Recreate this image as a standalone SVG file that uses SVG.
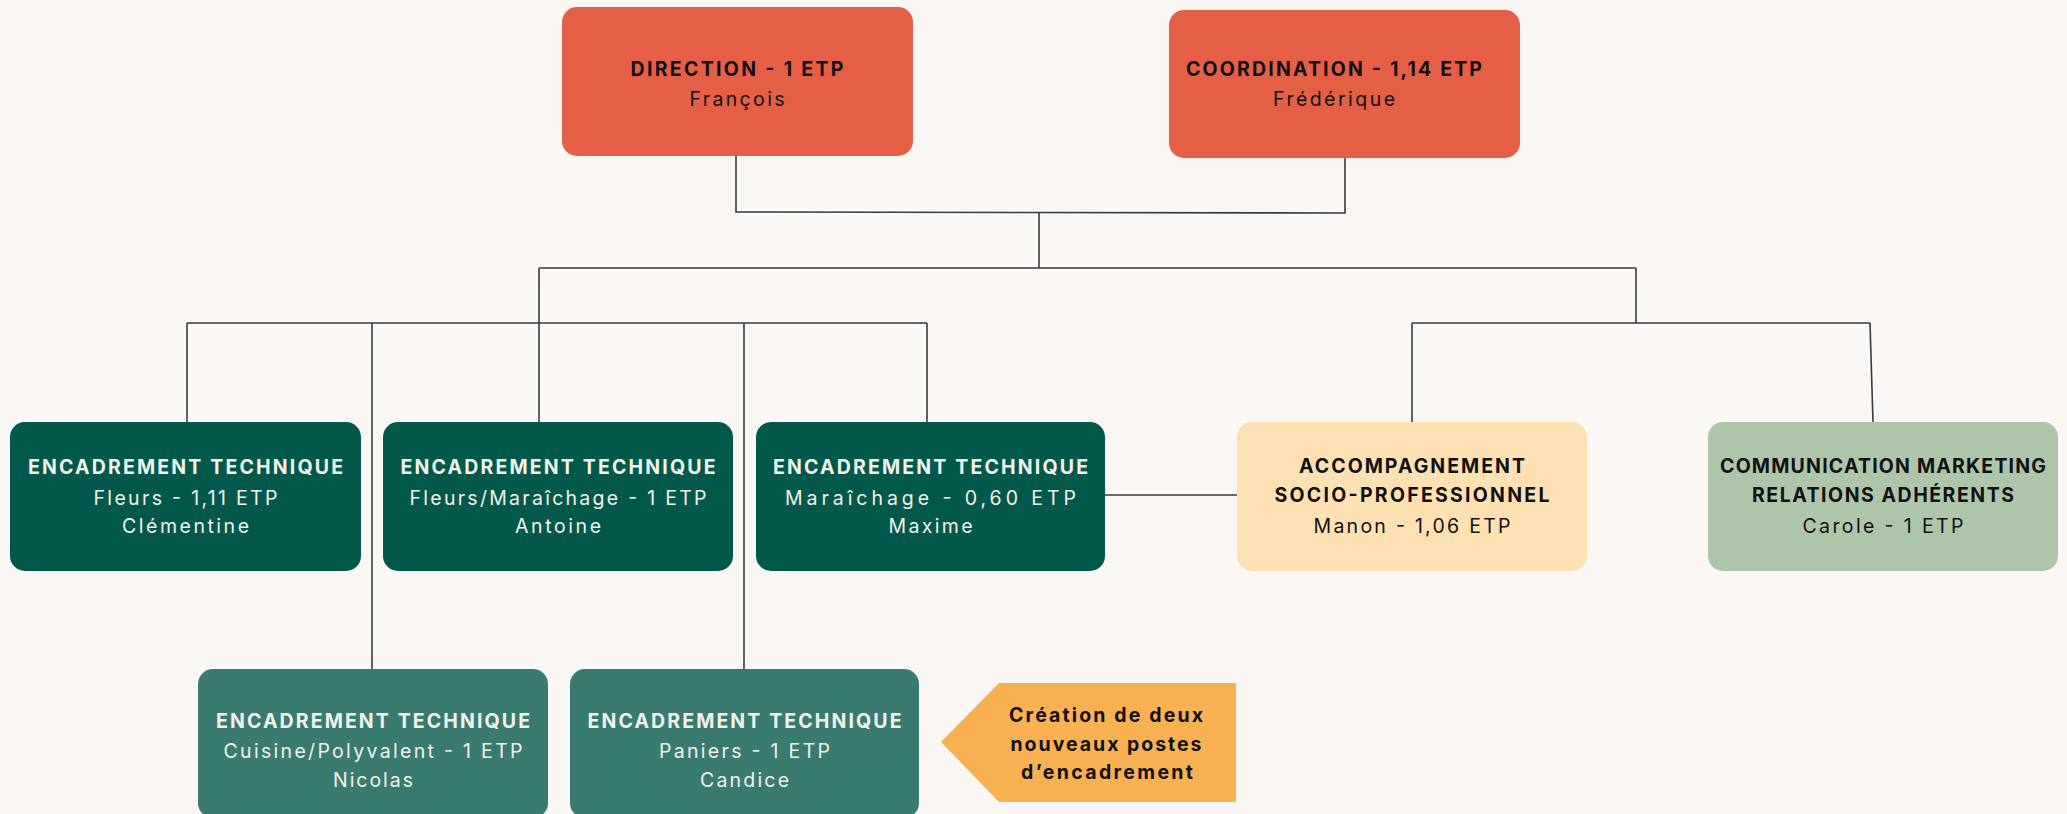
<svg xmlns="http://www.w3.org/2000/svg" width="2067" height="814" viewBox="0 0 2067 814">
<style>
.bg{fill:#FBF7F4}
.red{fill:#E55F46}
.dg{fill:#02594B}
.tl{fill:#397B71}
.pe{fill:#FEE1B2}
.sg{fill:#ADC6A9}
.or{fill:#F7B152}
.ln{fill:none;stroke:#3a3a3a;stroke-width:1.6}
text{font-family:Inter,"Open Sans","Liberation Sans",sans-serif;font-size:19.5px;text-anchor:middle}
.b{font-weight:700}
.r{font-weight:400}
.k{fill:#111111}
.w{fill:#F3F1EC}
</style>
<rect class="bg" x="0" y="0" width="2067" height="814"/>
<g id="connectors">
<path class="ln" d="M736,156 V212 L1345,213 V158"/>
<path class="ln" d="M1039,212 V268"/>
<path class="ln" d="M539,268 H1636"/>
<path class="ln" d="M539,268 V422"/>
<path class="ln" d="M1636,268 V323"/>
<path class="ln" d="M187,323 H927"/>
<path class="ln" d="M187,323 V422"/>
<path class="ln" d="M372,323 V669"/>
<path class="ln" d="M744,323 V669"/>
<path class="ln" d="M927,323 V422"/>
<path class="ln" d="M1412,323 H1870"/>
<path class="ln" d="M1412,323 V422"/>
<path class="ln" d="M1870,323 L1873,422"/>
<path class="ln" d="M1105,495 H1237"/>
</g>
<g id="direction">
<rect class="red" x="562" y="7" width="351" height="149" rx="15"/>
<text class="b k" x="737" y="76" textLength="213" lengthAdjust="spacing">DIRECTION - 1 ETP</text>
<text class="r k" x="737" y="106" textLength="95" lengthAdjust="spacing">François</text>
</g>
<g id="coordination">
<rect class="red" x="1169" y="10" width="351" height="148" rx="15"/>
<text class="b k" x="1334" y="76" textLength="296" lengthAdjust="spacing">COORDINATION - 1,14 ETP</text>
<text class="r k" x="1334" y="106" textLength="122" lengthAdjust="spacing">Frédérique</text>
</g>
<g id="clementine">
<rect class="dg" x="10" y="422" width="351" height="149" rx="15"/>
<text class="b w" x="185.5" y="474" textLength="315" lengthAdjust="spacing">ENCADREMENT TECHNIQUE</text>
<text class="r w" x="185.5" y="505" textLength="184" lengthAdjust="spacing">Fleurs - 1,11 ETP</text>
<text class="r w" x="185.5" y="533" textLength="127" lengthAdjust="spacing">Clémentine</text>
</g>
<g id="antoine">
<rect class="dg" x="383" y="422" width="350" height="149" rx="15"/>
<text class="b w" x="558" y="474" textLength="315" lengthAdjust="spacing">ENCADREMENT TECHNIQUE</text>
<text class="r w" x="558" y="505" textLength="297" lengthAdjust="spacing">Fleurs/Maraîchage - 1 ETP</text>
<text class="r w" x="558" y="533" textLength="86" lengthAdjust="spacing">Antoine</text>
</g>
<g id="maxime">
<rect class="dg" x="756" y="422" width="349" height="149" rx="15"/>
<text class="b w" x="930.5" y="474" textLength="315" lengthAdjust="spacing">ENCADREMENT TECHNIQUE</text>
<text class="r w" x="930.5" y="505" textLength="291" lengthAdjust="spacing">Maraîchage - 0,60 ETP</text>
<text class="r w" x="930.5" y="533" textLength="84" lengthAdjust="spacing">Maxime</text>
</g>
<g id="manon">
<rect class="pe" x="1237" y="422" width="350" height="149" rx="15"/>
<text class="b k" x="1412" y="473" textLength="226" lengthAdjust="spacing">ACCOMPAGNEMENT</text>
<text class="b k" x="1412" y="502" textLength="275" lengthAdjust="spacing">SOCIO-PROFESSIONNEL</text>
<text class="r k" x="1412" y="533" textLength="197" lengthAdjust="spacing">Manon - 1,06 ETP</text>
</g>
<g id="carole">
<rect class="sg" x="1708" y="422" width="350" height="149" rx="15"/>
<text class="b k" x="1883" y="473" textLength="326" lengthAdjust="spacing">COMMUNICATION MARKETING</text>
<text class="b k" x="1883" y="502" textLength="262" lengthAdjust="spacing">RELATIONS ADHÉRENTS</text>
<text class="r k" x="1883" y="533" textLength="161" lengthAdjust="spacing">Carole - 1 ETP</text>
</g>
<g id="nicolas">
<rect class="tl" x="198" y="669" width="350" height="149" rx="15"/>
<text class="b w" x="373" y="728" textLength="314" lengthAdjust="spacing">ENCADREMENT TECHNIQUE</text>
<text class="r w" x="373" y="758" textLength="299" lengthAdjust="spacing">Cuisine/Polyvalent - 1 ETP</text>
<text class="r w" x="373" y="787" textLength="80" lengthAdjust="spacing">Nicolas</text>
</g>
<g id="candice">
<rect class="tl" x="570" y="669" width="349" height="149" rx="15"/>
<text class="b w" x="744.5" y="728" textLength="314" lengthAdjust="spacing">ENCADREMENT TECHNIQUE</text>
<text class="r w" x="744.5" y="758" textLength="171" lengthAdjust="spacing">Paniers - 1 ETP</text>
<text class="r w" x="744.5" y="787" textLength="89" lengthAdjust="spacing">Candice</text>
</g>
<g id="note">
<polygon class="or" points="941,742 999,683 1236,683 1236,802 999,802"/>
<text class="b k" x="1106" y="722" textLength="194" lengthAdjust="spacing">Création de deux</text>
<text class="b k" x="1106" y="751" textLength="191" lengthAdjust="spacing">nouveaux postes</text>
<text class="b k" x="1107" y="779" textLength="172" lengthAdjust="spacing">d’encadrement</text>
</g>
</svg>
